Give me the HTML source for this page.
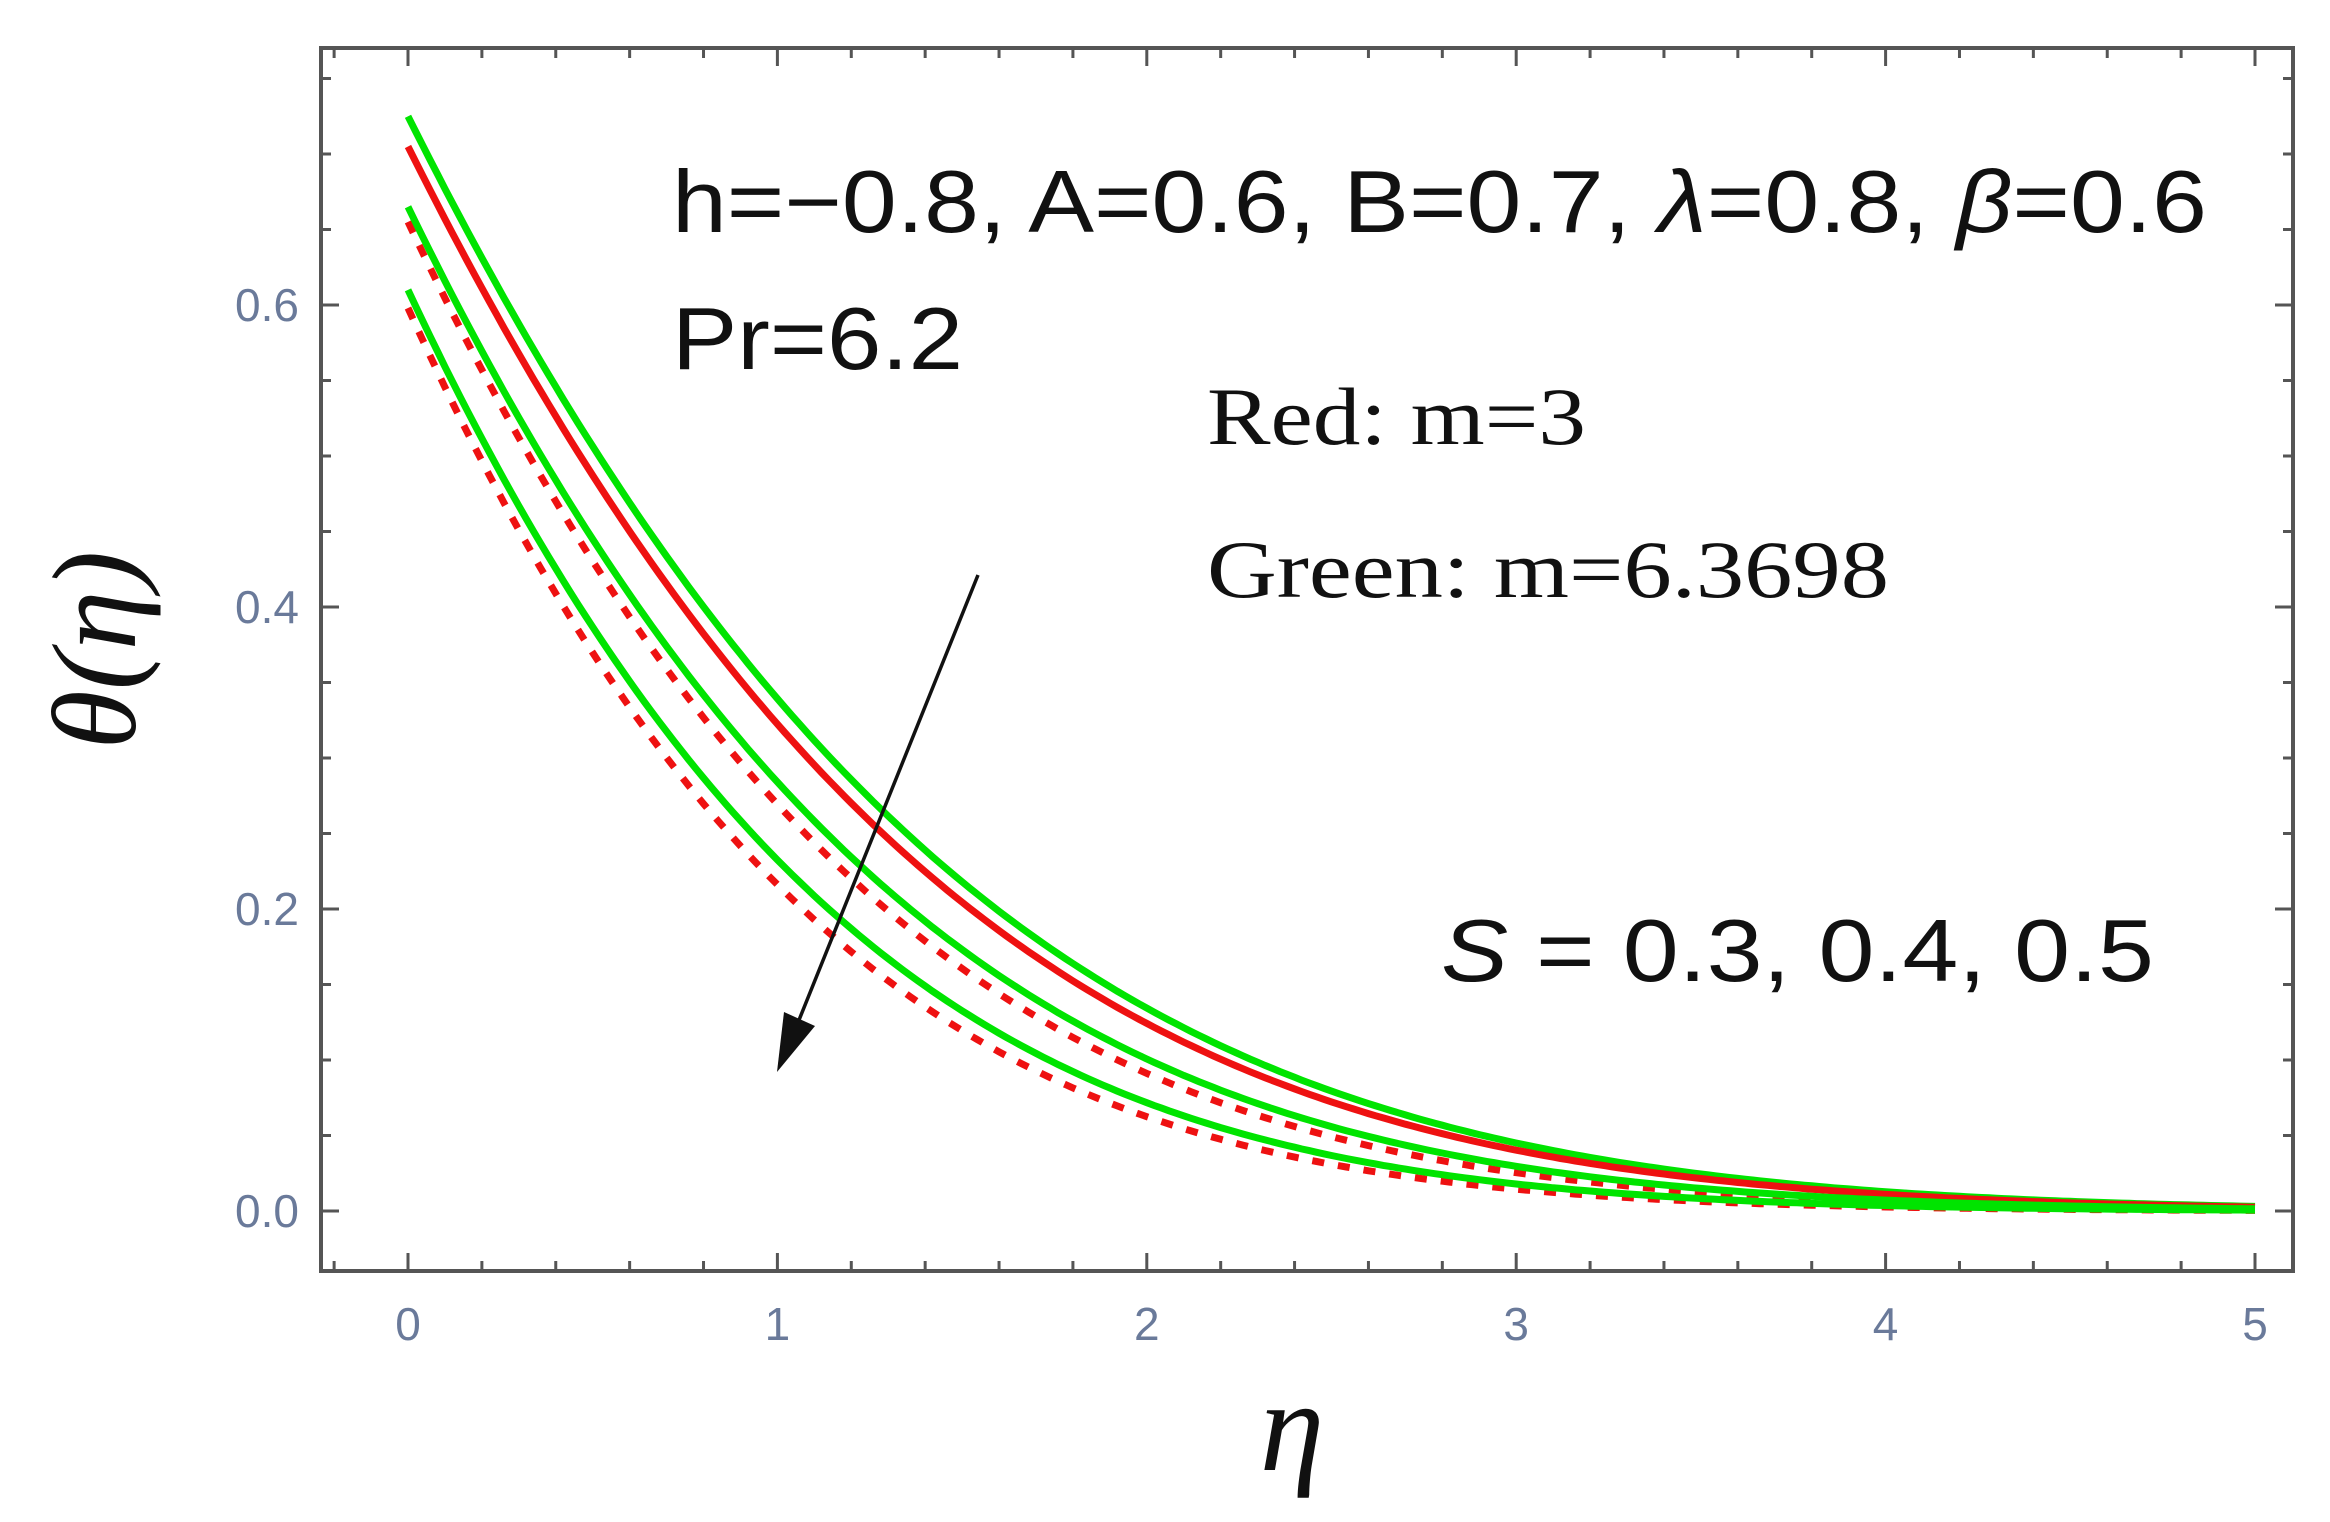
<!DOCTYPE html>
<html><head><meta charset="utf-8"><style>
html,body{margin:0;padding:0;background:#fff;width:2330px;height:1522px;overflow:hidden}
svg{display:block}
.tl{font-family:"Liberation Sans",sans-serif;font-size:46px;fill:#6a7a9a}
</style></head><body>
<svg id="s" width="2330" height="1522" viewBox="0 0 2330 1522" xmlns="http://www.w3.org/2000/svg">
<rect x="0" y="0" width="2330" height="1522" fill="#fff"/>
<g id="curves" fill="none" stroke-width="7"></g>
<rect x="321" y="48" width="1972" height="1223" fill="none" stroke="#555" stroke-width="4"/>
<g id="ticks" stroke="#555" stroke-width="3"></g>
<g id="labels"></g>
<line x1="978" y1="575" x2="795" y2="1030" stroke="#111" stroke-width="3.5"/>
<polygon points="777,1072 784,1012 815,1026" fill="#111"/>
<text x="672" y="232" font-family="Liberation Sans,sans-serif" font-size="88" fill="#111" textLength="1535" lengthAdjust="spacingAndGlyphs">h=−0.8, A=0.6, B=0.7, <tspan font-style="italic">λ</tspan>=0.8, <tspan font-style="italic">β</tspan>=0.6</text>
<text x="672" y="369" font-family="Liberation Sans,sans-serif" font-size="88" fill="#111" textLength="291" lengthAdjust="spacingAndGlyphs">Pr=6.2</text>
<text x="1207" y="444" font-family="Liberation Serif,serif" font-size="82" fill="#111" textLength="379" lengthAdjust="spacingAndGlyphs">Red: m=3</text>
<text x="1207" y="597" font-family="Liberation Serif,serif" font-size="82" fill="#111" textLength="682" lengthAdjust="spacingAndGlyphs">Green: m=6.3698</text>
<text x="1441" y="981" font-family="Liberation Sans,sans-serif" font-size="88" fill="#111" textLength="713" lengthAdjust="spacingAndGlyphs"><tspan font-style="italic">S</tspan> = 0.3, 0.4,  0.5</text>
<text transform="translate(135,650) rotate(-90)" text-anchor="middle" font-family="Liberation Serif,serif" font-size="120" font-style="italic" fill="#111">θ(η)</text>
<text x="1292" y="1470" text-anchor="middle" font-family="Liberation Serif,serif" font-size="130" font-style="italic" fill="#111">η</text>
</svg>
<script>
var X=function(e){return 408+369.4*e}, Y=function(v){return 1211-1510*v};
var cs=[[.725,1.0,'#00e400',0],[.705,1.03,'#ee1111',0],[.665,1.12,'#00e400',0],[.655,1.17,'#ee1111',1],[.61,1.27,'#00e400',0],[.598,1.34,'#ee1111',1]];
var g=document.getElementById('curves'),h='';
cs.sort(function(a,b){return b[3]-a[3]});
cs.forEach(function(c){var d='';for(var i=0;i<=250;i++){var e=i*5/250;var v=c[0]*Math.exp(-c[1]*(0.676*e+0.0834*e*e));d+=(i?'L':'M')+X(e).toFixed(1)+','+Y(v).toFixed(1);}
h+='<path d="'+d+'" stroke="'+c[2]+'"'+(c[3]?' stroke-dasharray="12,14"':'')+'/>';});
g.innerHTML=h;
var t='',L='';
for(var k=-1;k<=25;k++){var e=k*0.2,x=X(e);if(x<325||x>2290)continue;var maj=(k%5==0);var l=maj?18:10;
t+='<line x1="'+x+'" y1="1271" x2="'+x+'" y2="'+(1271-l)+'"/><line x1="'+x+'" y1="48" x2="'+x+'" y2="'+(48+l)+'"/>';
if(maj)L+='<text class="tl" x="'+x+'" y="1340" text-anchor="middle">'+(k/5)+'</text>';}
for(var k=0;k<=15;k++){var v=k*0.05,y=Y(v);if(y<52)continue;var maj=(k%4==0);var l=maj?18:10;
t+='<line x1="321" y1="'+y+'" x2="'+(321+l)+'" y2="'+y+'"/><line x1="2293" y1="'+y+'" x2="'+(2293-l)+'" y2="'+y+'"/>';
if(maj)L+='<text class="tl" x="299" y="'+(y+16)+'" text-anchor="end">'+v.toFixed(1)+'</text>';}
document.getElementById('ticks').innerHTML=t;document.getElementById('labels').innerHTML=L;
</script>
</body></html>
